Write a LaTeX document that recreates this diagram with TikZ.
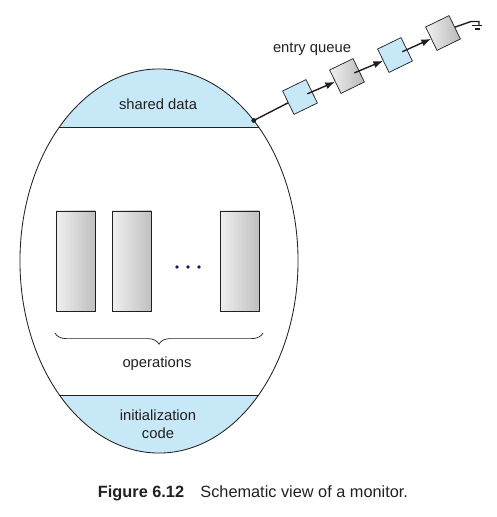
\documentclass[tikz,border=0pt]{standalone}
\usepackage{fontspec}
\setmainfont{Liberation Sans}
\usepackage{tikz}
\usetikzlibrary{arrows.meta}
\usetikzlibrary{positioning,decorations.pathreplacing}
\usetikzlibrary{calc,shapes.geometric}
\definecolor{capblue}{HTML}{C7E8F7}
\definecolor{inkgray}{HTML}{231F20}
\tikzset{
    opbox/.style={
        draw=inkgray,
        line width=0.5pt,
        left color=gray!12,
        right color=gray!50,
        minimum width=0.975cm,
        minimum height=2.5cm,
        inner sep=0pt
    },
    qbox/.style={
        draw=inkgray,
        line width=0.5pt,
        rotate=26,
        minimum size=0.65cm,
        inner sep=0pt
    },
    qblue/.style={qbox, fill=capblue},
    qgray/.style={qbox, left color=gray!12, right color=gray!55},
    link/.style={
        draw=inkgray,
        line width=1pt,
        -{Latex[length=2.4mm, width=1.8mm]}
    },
    every node/.style={font=\fontsize{10.5}{12.8}\selectfont, text=inkgray}
}

\begin{document}
\begin{tikzpicture}[x=0.025cm, y=-0.025cm]
    \useasboundingbox (0,0) rectangle (496,517);

    % Caps of the monitor
    \begin{scope}
        \clip (159,261) ellipse (3.475cm and 4.8cm);
        \fill[capblue] (0,0) rectangle (496,127);
        \fill[capblue] (0,395) rectangle (496,517);
        \draw[inkgray, line width=0.6pt] (0,127) -- (496,127);
        \draw[inkgray, line width=0.6pt] (0,395) -- (496,395);
    \end{scope}

    % Monitor outline
    \node[ellipse, draw=inkgray, line width=0.6pt, minimum width=6.95cm,
          minimum height=9.6cm, inner sep=0pt, outer sep=0pt] (monitor) at (159,261) {};

    \node (shared) at (158,104) {shared data};
    \node[align=center] (init) at (158,424) {initialization\\code};

    % Operations
    \node[opbox] (op1) at (75.5,261) {};
    \node[opbox] (op2) at (132,261) {};
    \node[opbox] (opn) at (239.5,261) {};
    \foreach \x in {177,188,199}
        \fill[inkgray!70!blue] (\x,267) circle (0.045cm);

    \coordinate (braceR) at (263,333);
    \coordinate (braceL) at (55,333);
    \draw[inkgray, line width=0.5pt, decorate, decoration={brace, amplitude=0.28cm}] (braceR) -- (braceL);
    \node (ops) at (157,364) {operations};

    % Entry queue
    \node (entry) at (312,49) {entry queue};
    \node[qblue] (q1) at (300,97) {};
    \node[qgray] (q2) at (347,76) {};
    \node[qblue] (q3) at (395,55) {};
    \node[qgray] (q4) at (443,33) {};

    \coordinate (door) at (monitor.56);
    \fill[inkgray] (door) circle (0.06cm);
    \draw[inkgray, line width=1pt] (door) -- (q1.west);
    \draw[link, shorten <=0.2cm] (q1.center) -- (q2.west);
    \draw[link, shorten <=0.2cm] (q2.center) -- (q3.west);
    \draw[link, shorten <=0.2cm] (q3.center) -- (q4.west);

    % Null end
    \coordinate (nil) at (471,21.5);
    \draw[inkgray, line width=1pt] (q4.east) -- (nil) -- (479,21.5) -- (479,25.5);
    \draw[inkgray, line width=0.8pt] (472,25.5) -- (482,25.5);
    \draw[inkgray, line width=0.8pt] (475,29) -- (480,29);

    % Caption
    \node[anchor=west, font=\fontsize{11.6}{14}\selectfont] (caption) at (93,493)
        {\textbf{Figure 6.12}\quad Schematic view of a monitor.};
\end{tikzpicture}
\end{document}
